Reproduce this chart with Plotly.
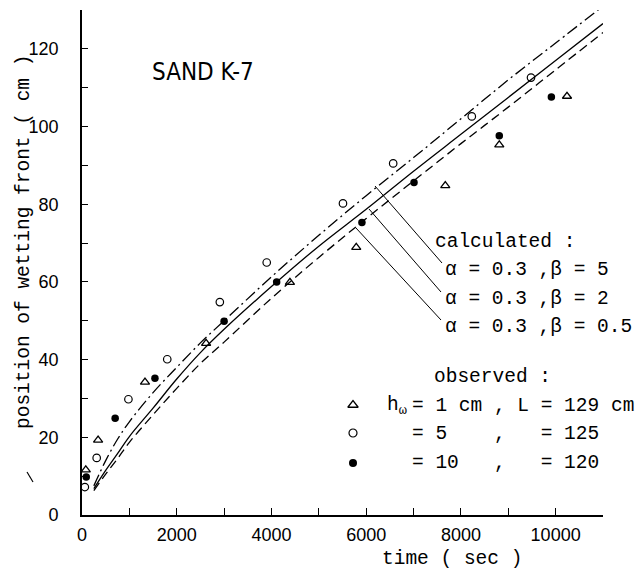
import plotly.graph_objects as go

# ---------------- data ----------------
t_curve = [250, 500, 750, 1000, 1500, 2000, 2500, 3000, 4000, 5000, 6000, 7000, 8000, 9000, 10000, 11000]
calc_beta5 = [7.5, 14.0, 19.5, 24.0, 31.5, 38.0, 44.3, 50.0, 61.3, 72.0, 82.2, 92.0, 102.0, 112.0, 121.5, 131.0]
calc_beta2 = [6.8, 11.5, 15.8, 20.2, 27.5, 35.0, 41.8, 47.8, 58.8, 69.2, 78.7, 88.5, 98.0, 107.5, 117.0, 126.5]
calc_beta05 = [6.3, 10.5, 14.5, 18.7, 25.8, 32.6, 39.0, 44.5, 55.8, 66.3, 76.3, 86.0, 95.6, 105.0, 114.6, 124.2]

obs_h1_t = [80, 340, 1330, 2620, 4390, 5790, 7670, 8810, 10240]
obs_h1_v = [11.6, 19.3, 34.2, 44.2, 59.9, 68.9, 84.8, 95.3, 107.8]
obs_h5_t = [60, 310, 980, 1800, 2910, 3900, 5510, 6570, 8230, 9480]
obs_h5_v = [7.2, 14.7, 29.8, 40.1, 54.8, 65.0, 80.2, 90.5, 102.6, 112.6]
obs_h10_t = [90, 700, 1540, 3000, 4110, 5910, 7010, 8810, 9910]
obs_h10_v = [9.8, 24.9, 35.2, 49.9, 60.0, 75.3, 85.6, 97.6, 107.6]

x_ticks = [0, 2000, 4000, 6000, 8000, 10000]
y_ticks = [0, 20, 40, 60, 80, 100, 120]

# ---------------- layout helpers ----------------
W, H = 639, 569
L, R, T, B = 82, 603, 10, 515  # plot area in pixels


def pxx(x):
    return (x - L) / (R - L)


def pxy(y):
    return (B - y) / (B - T)


MONO = "Liberation Mono, Courier New, monospace"
SANS = "Liberation Sans, Arial, sans-serif"
NARROW = "Liberation Sans Narrow, Arial Narrow, DejaVu Sans Condensed, Liberation Sans"
FS = 19.5

fig = go.Figure()

fig.add_trace(go.Scatter(x=t_curve, y=calc_beta5, mode="lines", line=dict(color="black", width=1.3, dash="12px,4px,2px,4px"), line_shape="spline"))
fig.add_trace(go.Scatter(x=t_curve, y=calc_beta2, mode="lines", line=dict(color="black", width=1.3), line_shape="spline"))
fig.add_trace(go.Scatter(x=t_curve, y=calc_beta05, mode="lines", line=dict(color="black", width=1.3, dash="9px,5px"), line_shape="spline"))

fig.add_trace(go.Scatter(x=obs_h1_t, y=obs_h1_v, mode="markers", cliponaxis=False,
                         marker=dict(symbol="triangle-up-open", size=8, color="black", line=dict(width=1.3))))
fig.add_trace(go.Scatter(x=obs_h5_t, y=obs_h5_v, mode="markers", cliponaxis=False,
                         marker=dict(symbol="circle-open", size=7.5, color="black", line=dict(width=1.2))))
fig.add_trace(go.Scatter(x=obs_h10_t, y=obs_h10_v, mode="markers", cliponaxis=False,
                         marker=dict(symbol="circle", size=7.5, color="black")))

# legend keys on a pixel-space overlay axis
key_x = [353, 353, 353]
key_y = [405, 433, 463]
fig.add_trace(go.Scatter(x=key_x[:1], y=key_y[:1], xaxis="x2", yaxis="y2", mode="markers", cliponaxis=False,
                         marker=dict(symbol="triangle-up-open", size=9, color="black", line=dict(width=1.3))))
fig.add_trace(go.Scatter(x=key_x[1:2], y=key_y[1:2], xaxis="x2", yaxis="y2", mode="markers", cliponaxis=False,
                         marker=dict(symbol="circle-open", size=8, color="black", line=dict(width=1.2))))
fig.add_trace(go.Scatter(x=key_x[2:], y=key_y[2:], xaxis="x2", yaxis="y2", mode="markers", cliponaxis=False,
                         marker=dict(symbol="circle", size=8, color="black")))

annotations = []


def text(x, y, s, size=FS, family=MONO, xanchor="left", angle=0):
    annotations.append(dict(x=pxx(x), y=pxy(y), xref="paper", yref="paper", text=s, showarrow=False,
                            xanchor=xanchor, yanchor="middle", textangle=angle,
                            font=dict(family=family, size=size, color="black")))


NB = "\u00a0"
text(203, 72, "SAND K-7", size=24, family=NARROW, xanchor="center")
text(433, 242, "calculated :".replace(" ", NB))
text(443, 270, "α = 0.3 ,β = 5".replace(" ", NB))
text(443, 299, "α = 0.3 ,β = 2".replace(" ", NB))
text(443, 327, "α = 0.3 ,β = 0.5".replace(" ", NB))
text(432, 377, "observed :".replace(" ", NB))
text(385, 406, "h<sub>ω</sub>")
text(410, 406, "= 1 cm , L = 129 cm".replace(" ", NB))
text(410, 434, "= 5    ,   = 125".replace(" ", NB))
text(410, 463, "= 10   ,   = 120".replace(" ", NB))
text(380, 559, "time ( sec )".replace(" ", NB))
text(24, 242, "position of wetting front ( cm )".replace(" ", NB), xanchor="center", angle=-90)

shapes = []
leaders = [((375, 186), (442, 263)), ((369, 209), (441, 292)), ((356, 228), (441, 320))]
for (x0, y0), (x1, y1) in leaders:
    shapes.append(dict(type="line", xref="x2", yref="y2", x0=x0, y0=y0, x1=x1, y1=y1,
                       line=dict(color="black", width=1)))
# stray scan mark at the left
shapes.append(dict(type="line", xref="paper", yref="paper", x0=pxx(27), y0=pxy(472), x1=pxx(33), y1=pxy(482),
                   line=dict(color="black", width=1.2)))

fig.update_layout(
    width=W, height=H,
    margin=dict(l=L, r=W - R, t=T, b=H - B, pad=0),
    paper_bgcolor="white", plot_bgcolor="white",
    showlegend=False,
    annotations=annotations, shapes=shapes,
    xaxis=dict(range=[0, 11000], showgrid=False, zeroline=False, showline=True, linecolor="black", linewidth=1.6,
               tickvals=x_ticks, ticktext=[str(v) for v in x_ticks], ticks="inside", ticklen=7, tickwidth=1.3,
               tickcolor="black", ticklabelstandoff=3,
               minor=dict(dtick=1000, tick0=0, ticks="inside", ticklen=7, tickwidth=1.3, tickcolor="black", showgrid=False),
               tickfont=dict(family=SANS, size=18, color="black")),
    yaxis=dict(range=[0, 130], showgrid=False, zeroline=False, showline=True, linecolor="black", linewidth=1.6,
               tickvals=y_ticks, ticktext=[str(v) for v in y_ticks], ticks="inside", ticklen=6, tickwidth=1.3,
               tickcolor="black", ticklabelstandoff=18,
               minor=dict(dtick=10, tick0=0, ticks="inside", ticklen=6, tickwidth=1.3, tickcolor="black", showgrid=False),
               tickfont=dict(family=SANS, size=18, color="black")),
    xaxis2=dict(range=[L, R], overlaying="x", visible=False, anchor="y2"),
    yaxis2=dict(range=[B, T], overlaying="y", visible=False, anchor="x2"),
)

fig.write_html("out.html")
